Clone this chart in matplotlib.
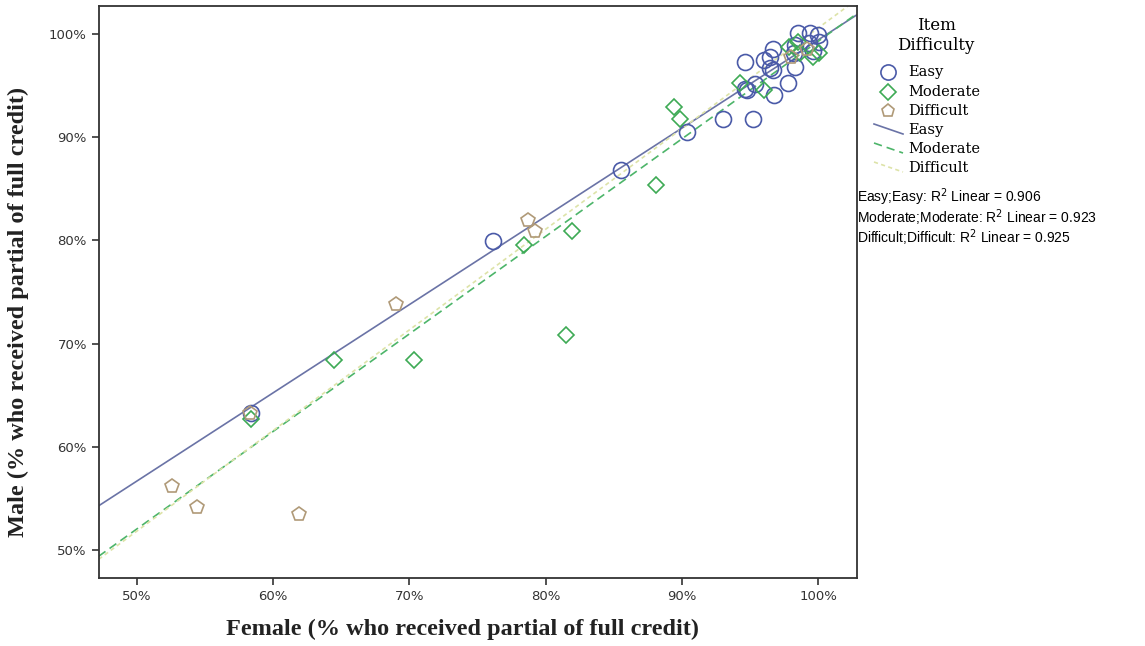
import numpy as np
import matplotlib
matplotlib.use("Agg")
import matplotlib.pyplot as plt
from matplotlib.lines import Line2D

# values (percent)
easy_x = [58.4, 76.1, 85.5, 90.4, 93.0, 95.2, 94.8, 94.6, 95.4, 96.8, 97.8, 96.0, 96.5, 96.7,
          96.7, 96.5, 98.3, 94.6, 98.2, 98.3, 99.3, 99.6, 98.5, 99.4, 100.0, 100.1]
easy_y = [63.3, 79.9, 86.8, 90.5, 91.8, 91.8, 94.6, 94.7, 95.2, 94.1, 95.3, 97.5, 97.8, 96.5,
          98.6, 96.7, 96.8, 97.3, 98.2, 98.9, 99.1, 98.4, 100.1, 100.1, 99.9, 99.2]
mod_x = [58.4, 64.5, 70.3, 78.4, 81.9, 81.5, 88.1, 89.4, 89.9, 94.3, 96.0, 97.9, 98.5,
         98.7, 99.6, 100.1]
mod_y = [62.7, 68.4, 68.4, 79.6, 80.9, 70.8, 85.4, 92.9, 91.8, 95.3, 94.6, 98.7, 99.2,
         98.2, 97.8, 98.2]
diff_x = [52.6, 54.4, 58.3, 61.9, 69.0, 78.7, 79.2, 98.0, 99.2]
diff_y = [56.2, 54.2, 63.3, 53.5, 73.8, 82.0, 80.9, 97.8, 98.6]

groups = ["Easy", "Moderate", "Difficult"]
fit_slope = [0.855, 0.945, 0.975]
fit_icpt = [13.93, 4.79, 3.08]
r2 = [0.906, 0.923, 0.925]

mk_col = ["#4a5aa8", "#3daa55", "#b09a78"]
ln_col = ["#6a73a6", "#4db56a", "#dde3a8"]
markers = ["o", "D", "p"]
styles = ["-", (0, (5, 3)), (0, (2.5, 2))]

serif = {'family': 'DejaVu Serif'}

fig = plt.figure(figsize=(11.45, 6.46), dpi=100)
ax = fig.add_axes([0.0862, 0.1053, 0.6623, 0.8854])

xlim = (47.19, 102.86)
xs = np.array(xlim)
for i in range(3):
    ax.plot(xs, fit_slope[i] * xs + fit_icpt[i], color=ln_col[i], ls=styles[i], lw=1.2, zorder=1)

pts = [(easy_x, easy_y), (mod_x, mod_y), (diff_x, diff_y)]
sizes = [11.5, 8.5, 10]
for i, (px, py) in enumerate(pts):
    ax.plot(px, py, ls='', marker=markers[i], ms=sizes[i], mfc='none', mec=mk_col[i], mew=1.2, zorder=2)

ax.set_xlim(*xlim)
ax.set_ylim(47.28, 102.72)
ticks = [50, 60, 70, 80, 90, 100]
ax.set_xticks(ticks)
ax.set_yticks(ticks)
ax.set_xticklabels([f"{t}%" for t in ticks])
ax.set_yticklabels([f"{t}%" for t in ticks])
ax.tick_params(direction='out', length=5, width=1.2, labelsize=9.5, colors='#333333')
for s in ax.spines.values():
    s.set_linewidth(1.3)
    s.set_color('#333333')

ax.set_xlabel("Female (% who received partial of full credit)", fontsize=17.5,
              family='Liberation Serif', fontweight='bold', color='#222222')
ax.set_ylabel("Male (% who received partial of full credit)", fontsize=17.5,
              family='Liberation Serif', fontweight='bold', color='#222222')
ax.xaxis.set_label_coords(0.48, -0.072)
ax.yaxis.set_label_coords(-0.092, 0.465)

# legend built by hand, SPSS style
fig.text(936 / 1145, 1 - 25 / 646, "Item", ha='center', va='center', fontsize=12, **serif)
fig.text(936 / 1145, 1 - 46 / 646, "Difficulty", ha='center', va='center', fontsize=12, **serif)
ys = [72, 92, 111, 130, 149, 168]
for i in range(3):
    yy = 1 - ys[i] / 646
    fig.lines.append(Line2D([888 / 1145], [yy], marker=markers[i], ms=sizes[i] * 0.95, mfc='none',
                            mec=mk_col[i], mew=1.2, ls='', transform=fig.transFigure))
    fig.text(908 / 1145, yy, groups[i], va='center', fontsize=10.5, **serif)
for i in range(3):
    yy = 1 - ys[i + 3] / 646
    fig.lines.append(Line2D([874 / 1145, 903 / 1145], [yy + 6 / 646, yy - 4 / 646], color=ln_col[i],
                            ls=styles[i], lw=1.2, transform=fig.transFigure))
    fig.text(908 / 1145, yy, groups[i], va='center', fontsize=10.5, **serif)

for i in range(3):
    fig.text(857 / 1145, 1 - (197 + 20.5 * i) / 646,
             f"{groups[i]};{groups[i]}: R$^2$ Linear = {r2[i]:.3f}",
             va='center', fontsize=10, family='Liberation Sans')

fig.savefig("out.png", dpi=100)
